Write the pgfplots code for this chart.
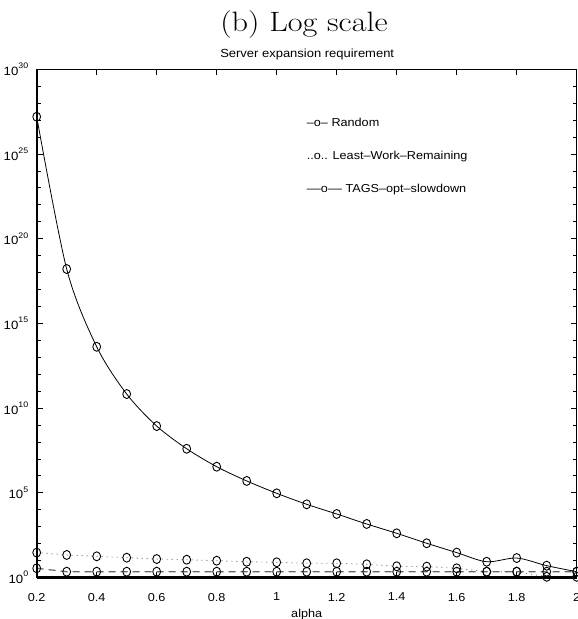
\documentclass[border=0pt]{standalone}
\usepackage{pgfplots}
\pgfplotsset{compat=1.18}
\usepackage{fontspec}
\setmainfont{Liberation Sans}[FakeStretch=1.1]
\newfontfamily\titlefont{lmroman17-regular.otf}[FakeStretch=1.15]
\newcommand{\tenp}[1]{10\raisebox{0.55em}{\fontsize{8}{8}\selectfont #1}}

% server expansion needed by each task assignment policy
\pgfplotstableread{
alpha  random     lwr    tags
0.2    1.58e27    29.5   3.5
0.3    1.62e18    21.4   2.2
0.4    4.17e13    17.8   2.2
0.5    6.76e10    14.8   2.2
0.6    8.71e8     12.3   2.2
0.7    3.98e7     11.2   2.2
0.8    3.47e6     9.8    2.2
0.9    5.01e5     8.5    2.2
1.0    9.33e4     7.9    2.2
1.1    2.09e4     6.9    2.2
1.2    5.62e3     6.9    2.2
1.3    1445       6.0    2.2
1.4    407        4.6    2.2
1.5    105        4.4    2.2
1.6    29.5       3.5    2.2
1.7    8.5        2.2    2.2
1.8    14.1       2.2    2.2
1.9    5.0        1.1    2.2
2.0    2.2        1.1    2.2
}\expansion

\begin{document}
\begin{tikzpicture}
\begin{axis}[
  name=ax, at={(0,0)}, anchor=south west,
  scale only axis, width=540pt, height=508.2pt,
  xmin=0.2, xmax=2, ymin=1, ymax=1e30, ymode=log,
  clip=false,
  axis line style={line width=1.1pt},
  tick align=inside,
  major tick length=6pt, minor tick length=4pt,
  tick style={black, line width=0.8pt},
  xtick={0.2,0.4,0.6,0.8,1,1.2,1.4,1.6,1.8,2},
  xticklabels={0.2,0.4,0.6,0.8,1,1.2,1.4,1.6,1.8,2},
  ytick={1,1e5,1e10,1e15,1e20,1e25,1e30},
  yticklabels={\tenp{0},\tenp{5},\tenp{10},\tenp{15},\tenp{20},\tenp{25},\tenp{30}},
  minor ytick={1e1,1e2,1e3,1e4,1e6,1e7,1e8,1e9,1e11,1e12,1e13,1e14,1e16,1e17,1e18,1e19,1e21,1e22,1e23,1e24,1e26,1e27,1e28,1e29},
  xticklabel style={font=\fontsize{11.5}{11.5}\selectfont, yshift=-12pt},
  yticklabel style={font=\fontsize{12}{12}\selectfont, xshift=-5pt},
  xlabel={alpha},
  xlabel style={at={(axis description cs:0.5,0)}, anchor=base, yshift=-39.5pt, font=\fontsize{11.5}{11.5}\selectfont},
  every axis plot/.append style={mark=o, mark size=3.9pt,
    mark options={solid, black, yscale=1.15, line width=0.9pt}},
]
\addplot[black, line width=0.8pt, smooth] table[x=alpha, y=random] {\expansion};
\addplot[black!55, line width=0.9pt, dash pattern=on 1pt off 4pt] table[x=alpha, y=lwr] {\expansion};
\addplot[black!60, line width=1.2pt, dash pattern=on 7pt off 5pt] table[x=alpha, y=tags] {\expansion};

% heavier left and bottom spines
\draw[line width=2.2pt] (rel axis cs:0,0) -- (rel axis cs:0,1);
\draw[line width=2.8pt] (rel axis cs:0,0) -- (rel axis cs:1,0);

% text legend
\begin{scope}[every node/.style={anchor=base west, inner sep=0pt, font=\fontsize{11.5}{11.5}\selectfont}]
\node at (rel axis cs:0.5,0.888) {\textendash o\textendash{} Random};
\node at (rel axis cs:0.5,0.823) {..o.. Least\textendash Work\textendash Remaining};
\node at (rel axis cs:0.5,0.757) {\textendash\textendash o\textendash\textendash{} TAGS\textendash opt\textendash slowdown};
\end{scope}
\end{axis}

\node[anchor=base, inner sep=0pt, font=\titlefont\fontsize{28}{28}\selectfont] at (267.3pt,545.8pt) {(b) Log scale};
\node[anchor=base, inner sep=0pt, font=\fontsize{11.8}{11.8}\selectfont] at (270.5pt,520.2pt) {Server expansion requirement};

\pgfresetboundingbox
\useasboundingbox (-36.7pt,-41.5pt) rectangle (541.3pt,577.5pt);
\end{tikzpicture}
\end{document}
